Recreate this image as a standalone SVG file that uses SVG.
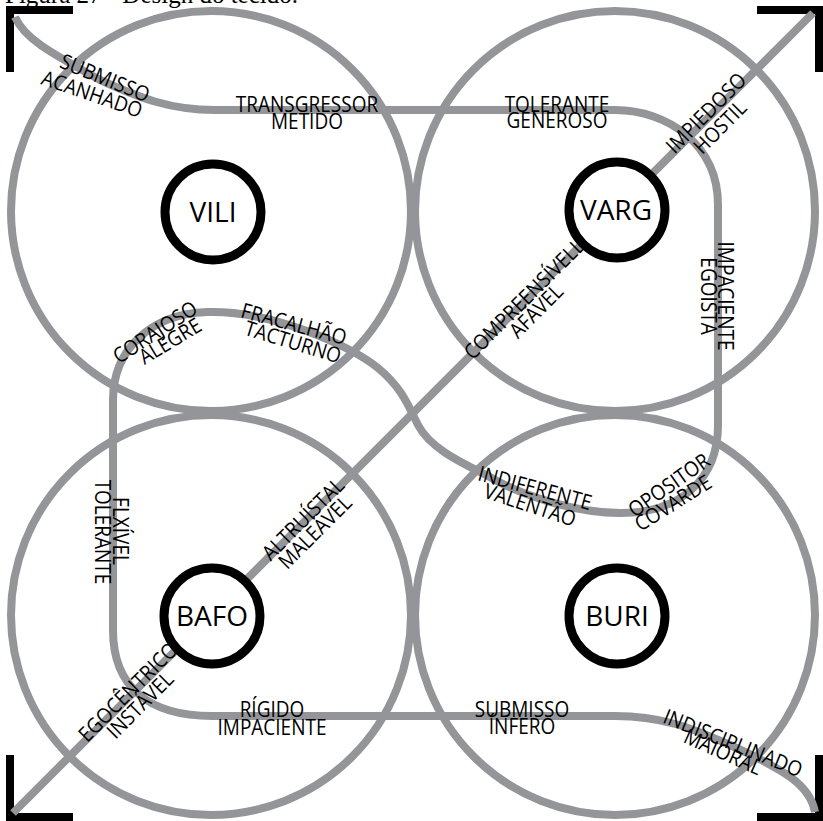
<svg xmlns="http://www.w3.org/2000/svg" width="823" height="821" viewBox="0 0 823 821">
<style>
.bg{fill:#ffffff}
.ring{fill:none;stroke:#939598;stroke-width:8}
.wire{fill:none;stroke:#939598;stroke-width:8;stroke-linecap:butt;stroke-linejoin:round}
.bracket{fill:none;stroke:#000000;stroke-width:8;stroke-linecap:butt;stroke-linejoin:miter}
.node circle{fill:#ffffff;stroke:#000000;stroke-width:9}
.node text{font-family:"Open Sans","Noto Sans","Liberation Sans",sans-serif;font-size:28px;fill:#000000;text-anchor:middle}
.lbl text{font-family:"Open Sans","Noto Sans","Liberation Sans",sans-serif;font-size:20px;fill:#000000;text-anchor:middle}
.title{font-family:"Liberation Serif","Times New Roman",serif;font-size:25px;fill:#000000}
</style>
<rect class="bg" x="0" y="0" width="823" height="821"/>
<text class="title" x="5" y="3">Figura 27 - Design do tecido.</text>
<g id="corners">
<path class="bracket" d="M73,10 H10 V72"/>
<path class="bracket" d="M757,10 H819 V72"/>
<path class="bracket" d="M10,755 V817 H73"/>
<path class="bracket" d="M819,755 V817 H757"/>
</g>
<g id="regions">
<circle class="ring" cx="211" cy="211" r="200"/>
<circle class="ring" cx="615" cy="211" r="200"/>
<circle class="ring" cx="211" cy="615" r="200"/>
<circle class="ring" cx="615" cy="615" r="200"/>
</g>
<g id="connectors">
<path class="wire" d="M15,17 C25,40 55,55 100,80 C140,98 170,110 215,110 L615,110 C668,110 718,145 718,205 L718,425 C718,480 680,513 620,513 C575,513 520,495 488,476 C460,462 430,448 418,425 C408,405 402,388 378,368 C350,345 270,310 207,312 C150,314 113,350 113,400 L113,630 C113,688 150,716 212,716 L615,716 C660,716 690,727 730,745 C785,770 810,785 815,812"/>
<path class="wire" d="M13,813 L813,13"/>
</g>
<g id="node-vili" class="node">
<circle cx="213" cy="212" r="48"/>
<text x="213" y="222">VILI</text>
</g>
<g id="node-varg" class="node">
<circle cx="617" cy="210" r="48"/>
<text x="616" y="220">VARG</text>
</g>
<g id="node-bafo" class="node">
<circle cx="212" cy="616" r="48"/>
<text x="212" y="626">BAFO</text>
</g>
<g id="node-buri" class="node">
<circle cx="617" cy="616" r="48"/>
<text x="617" y="626">BURI</text>
</g>
<g id="labels" class="lbl">
<text transform="translate(105,78) rotate(22) scale(0.95,1.05)" y="7">SUBMISSO</text>
<text transform="translate(92,94) rotate(19) scale(0.95,1.05)" y="7">ACANHADO</text>
<text transform="translate(307,105) scale(0.95,1.05)" y="7">TRANSGRESSOR</text>
<text transform="translate(307,121.5) scale(0.95,1.05)" y="7">METIDO</text>
<text transform="translate(557,104.5) scale(0.95,1.05)" y="7">TOLERANTE</text>
<text transform="translate(557,120.5) scale(0.95,1.05)" y="7">GENEROSO</text>
<text transform="translate(706,113) rotate(-45) scale(0.95,1.05)" y="7">IMPIEDOSO</text>
<text transform="translate(720,127) rotate(-45) scale(0.95,1.05)" y="7">HOSTIL</text>
<text transform="translate(725,296) rotate(90) scale(0.95,1.05)" y="7">IMPACIENTE</text>
<text transform="translate(708,296) rotate(90) scale(0.95,1.05)" y="7">EGOISTA</text>
<text transform="translate(524,299) rotate(-45) scale(0.95,1.05)" y="7">COMPREENSÍVELL</text>
<text transform="translate(536,311) rotate(-45) scale(0.95,1.05)" y="7">AFÁVEL</text>
<text transform="translate(155,332) rotate(-33) scale(0.95,1.05)" y="7">CORAJOSO</text>
<text transform="translate(170,341) rotate(-31) scale(0.95,1.05)" y="7">ALEGRE</text>
<text transform="translate(294,324) rotate(15) scale(0.95,1.05)" y="7">FRACALHÃO</text>
<text transform="translate(293,342) rotate(17) scale(0.95,1.05)" y="7">TACTURNO</text>
<text transform="translate(535,488) rotate(15) scale(0.95,1.05)" y="7">INDIFERENTE</text>
<text transform="translate(530,505) rotate(18) scale(0.95,1.05)" y="7">VALENTÃO</text>
<text transform="translate(669,485) rotate(-35) scale(0.95,1.05)" y="7">OPOSITOR</text>
<text transform="translate(673,503) rotate(-32) scale(0.95,1.05)" y="7">COVARDE</text>
<text transform="translate(120,531) rotate(90) scale(0.95,1.05)" y="7">FLXÍVEL</text>
<text transform="translate(102,532) rotate(90) scale(0.95,1.05)" y="7">TOLERANTE</text>
<text transform="translate(303,519) rotate(-45) scale(0.95,1.05)" y="7">ALTRUÍSTAL</text>
<text transform="translate(315,532) rotate(-45) scale(0.95,1.05)" y="7">MALEÁVEL</text>
<text transform="translate(128,692) rotate(-45) scale(0.95,1.05)" y="7">EGOCÊNTRICO</text>
<text transform="translate(140,705) rotate(-45) scale(0.95,1.05)" y="7">INSTÁVEL</text>
<text transform="translate(272,710) scale(0.95,1.05)" y="7">RÍGIDO</text>
<text transform="translate(272,727.5) scale(0.95,1.05)" y="7">IMPACIENTE</text>
<text transform="translate(522,710) scale(0.95,1.05)" y="7">SUBMISSO</text>
<text transform="translate(522,727) scale(0.95,1.05)" y="7">ÍNFERO</text>
<text transform="translate(733,743) rotate(22) scale(0.95,1.05)" y="7">INDISCIPLINADO</text>
<text transform="translate(723,752) rotate(24) scale(0.95,1.05)" y="7">MAIORAL</text>
</g>
</svg>
